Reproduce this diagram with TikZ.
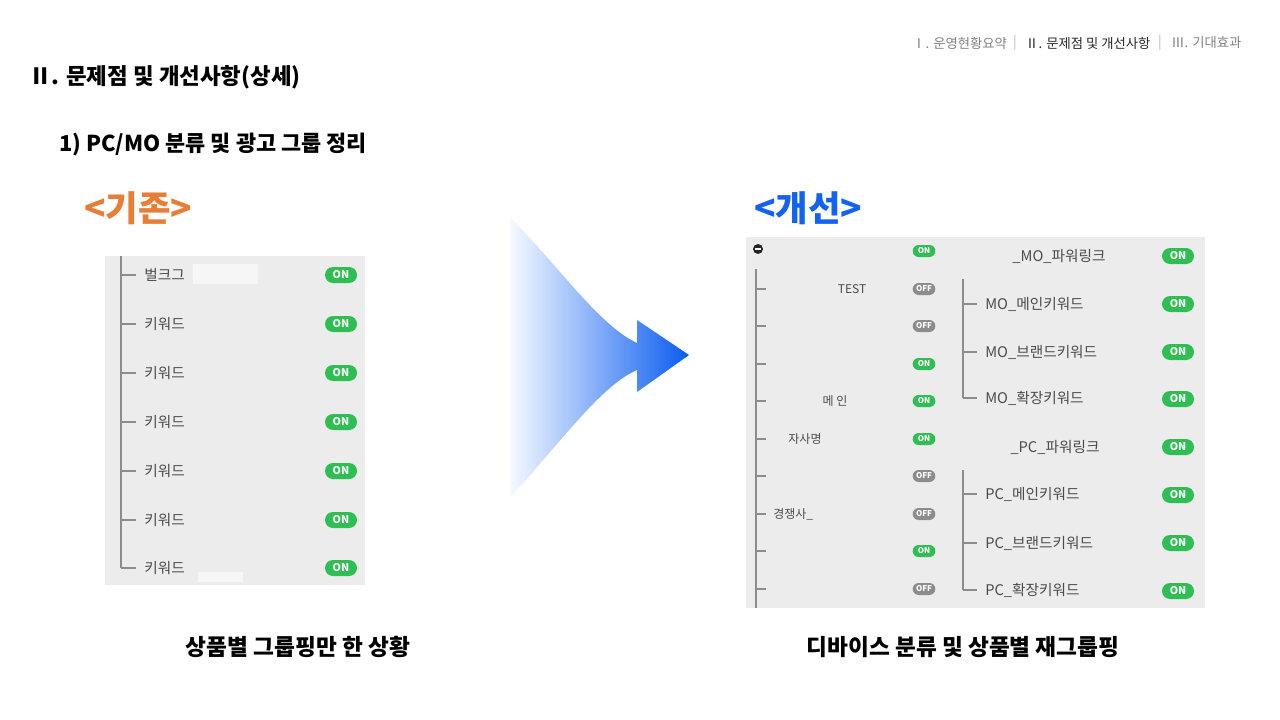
\documentclass[tikz,border=0pt]{standalone}
\usepackage{fontspec}
\setmainfont{Noto Sans CJK KR}
\definecolor{giorange}{RGB}{232,125,53}
\definecolor{gaeblue}{RGB}{20,98,240}
\definecolor{ongreen}{RGB}{46,190,82}
\definecolor{offgray}{RGB}{140,140,140}
\definecolor{panelgray}{RGB}{236,236,236}
\definecolor{treegray}{RGB}{140,140,140}
\definecolor{labelgray}{RGB}{75,75,75}
\definecolor{hdgray}{RGB}{130,130,130}
\definecolor{hddark}{RGB}{40,40,40}
\definecolor{sepgray}{RGB}{185,185,185}
\definecolor{arrowlight}{RGB}{246,250,255}
\definecolor{arrowmid}{RGB}{195,216,251}
\definecolor{arrowblue}{RGB}{10,92,240}
\begin{document}
\begin{tikzpicture}[x=0.75pt,y=0.75pt,yscale=-1,xscale=1,
  hdr/.style={inner sep=0pt,font=\fontsize{10}{12}\selectfont},
  onbig/.style={fill=ongreen,text=white,rounded corners=6pt,minimum width=24pt,minimum height=12pt,inner sep=0pt,font=\fontsize{8}{8}\selectfont\bfseries},
  onsmall/.style={fill=ongreen,text=white,rounded corners=4.5pt,minimum width=17pt,minimum height=9pt,inner sep=0pt,font=\fontsize{6}{6}\selectfont\bfseries},
  offsmall/.style={onsmall,fill=offgray},
  leaf/.style={anchor=west,inner xsep=6pt,inner ysep=0pt,text=labelgray,font=\fontsize{11}{13}\selectfont},
  midlabel/.style={inner sep=0pt,text=labelgray,font=\fontsize{9}{11}\selectfont},
  tree/.style={draw=treegray,line width=1.1pt}]
%uncomment if require: \path (0,720); %set diagram left start at 0, and has height of 720
\fill[white] (0,0) rectangle (1280,720);
\useasboundingbox (0,0) rectangle (1280,720);

% Text Node
\node (hdrA) [hdr,anchor=west,text=hdgray] at (912,43) {Ⅰ. 운영현황요약};
% Text Node
\node (sepA) [hdr,text=sepgray] at (1015,43) {|};
% Text Node
\node (hdrB) [hdr,anchor=west,text=hddark] at (1025,43) {Ⅱ. 문제점 및 개선사항};
% Text Node
\node (sepB) [hdr,text=sepgray] at (1160,43) {|};
% Text Node
\node (hdrC) [hdr,anchor=west,text=hdgray] at (1171,43) {Ⅲ. 기대효과};

% Text Node
\node (title) [anchor=west,inner sep=0pt,font=\fontsize{16.8}{18}\selectfont\bfseries] at (29,77) {Ⅱ. 문제점 및 개선사항(상세)};
% Text Node
\node (subtitle) [anchor=west,inner sep=0pt,font=\fontsize{16.4}{18}\selectfont\bfseries] at (59,145) {1) PC/MO 분류 및 광고 그룹 정리};
% Text Node
\node (before) [anchor=west,inner sep=0pt,text=giorange,font=\fontsize{26.5}{28}\selectfont\bfseries] at (84,208) {<기존>};
% Text Node
\node (after) [anchor=west,inner sep=0pt,text=gaeblue,font=\fontsize{26.5}{28}\selectfont\bfseries] at (754,208) {<개선>};

%Shape: Rectangle [id:before panel]
\fill[panelgray] (105,256) rectangle (365,585);
%Straight Lines [id:before trunk]
\coordinate (ltop) at (121,256);
\coordinate (lt1) at (121,275);
\coordinate (lt2) at (121,324);
\coordinate (lt3) at (121,373);
\coordinate (lt4) at (121,422);
\coordinate (lt5) at (121,471);
\coordinate (lt6) at (121,520);
\coordinate (lt7) at (121,568);
\draw[tree] (ltop) -- (lt7);

% Text Node
\node (l1) [leaf] at (136,275) {벌크그};
\node (l2) [leaf] at (136,324) {키워드};
\node (l3) [leaf] at (136,373) {키워드};
\node (l4) [leaf] at (136,422) {키워드};
\node (l5) [leaf] at (136,471) {키워드};
\node (l6) [leaf] at (136,520) {키워드};
\node (l7) [leaf] at (136,568) {키워드};
\draw[tree] (lt1) -- (l1.west);
\draw[tree] (lt2) -- (l2.west);
\draw[tree] (lt3) -- (l3.west);
\draw[tree] (lt4) -- (l4.west);
\draw[tree] (lt5) -- (l5.west);
\draw[tree] (lt6) -- (l6.west);
\draw[tree] (lt7) -- (l7.west);
%Shape: Rectangle [id:masks]
\fill[white,opacity=0.55] (193,264) rectangle (258,284);
\fill[white,opacity=0.55] (198,572) rectangle (243,582);

% Text Node
\node (lon1) [onbig] at (341,275) {ON};
\node (lon2) [onbig] at (341,324) {ON};
\node (lon3) [onbig] at (341,373) {ON};
\node (lon4) [onbig] at (341,422) {ON};
\node (lon5) [onbig] at (341,471) {ON};
\node (lon6) [onbig] at (341,520) {ON};
\node (lon7) [onbig] at (341,568) {ON};

%Shape: Arrow [id:gradient arrow]
\shade[left color=arrowlight,middle color=arrowmid,right color=arrowblue] (510,217) .. controls (560,268) and (600,326) .. (637,343) -- (637,320) -- (689,355) -- (637,392) -- (637,370) .. controls (600,386) and (560,444) .. (510,497) -- cycle;

%Shape: Rectangle [id:after panel]
\fill[panelgray] (746,237) rectangle (1205,608);
%Shape: Circle [id:collapse]
\node (minus) [circle,fill=black!85,minimum size=7.5pt,inner sep=0pt] at (758,249) {};
\draw[white,line width=1pt] ([xshift=-2pt]minus.center) -- ([xshift=2pt]minus.center);

%Straight Lines [id:after trunk]
\coordinate (rtop) at (756,269);
\coordinate (rbot) at (756,608);
\draw[tree] (rtop) -- (rbot);
\coordinate (rt1) at (756,289);  \coordinate (re1) at (766,289);
\coordinate (rt2) at (756,326);  \coordinate (re2) at (766,326);
\coordinate (rt3) at (756,364);  \coordinate (re3) at (766,364);
\coordinate (rt4) at (756,401);  \coordinate (re4) at (766,401);
\coordinate (rt5) at (756,439);  \coordinate (re5) at (766,439);
\coordinate (rt6) at (756,476);  \coordinate (re6) at (766,476);
\coordinate (rt7) at (756,514);  \coordinate (re7) at (766,514);
\coordinate (rt8) at (756,551);  \coordinate (re8) at (766,551);
\coordinate (rt9) at (756,589);  \coordinate (re9) at (766,589);
\draw[tree] (rt1) -- (re1);
\draw[tree] (rt2) -- (re2);
\draw[tree] (rt3) -- (re3);
\draw[tree] (rt4) -- (re4);
\draw[tree] (rt5) -- (re5);
\draw[tree] (rt6) -- (re6);
\draw[tree] (rt7) -- (re7);
\draw[tree] (rt8) -- (re8);
\draw[tree] (rt9) -- (re9);

% Text Node
\node (test) [midlabel] at (852,289) {TEST};
\node (main) [midlabel] at (835,401) {메 인};
\node (own) [midlabel] at (805,439) {자사명};
\node (rival) [midlabel,anchor=west] at (773,514) {경쟁사\_};

% Text Node
\node (s0) [onsmall] at (924,251) {ON};
\node (s1) [offsmall] at (924,289) {OFF};
\node (s2) [offsmall] at (924,326) {OFF};
\node (s3) [onsmall] at (924,364) {ON};
\node (s4) [onsmall] at (924,401) {ON};
\node (s5) [onsmall] at (924,439) {ON};
\node (s6) [offsmall] at (924,476) {OFF};
\node (s7) [offsmall] at (924,514) {OFF};
\node (s8) [onsmall] at (924,551) {ON};
\node (s9) [offsmall] at (924,589) {OFF};

%Straight Lines [id:MO bracket]
\coordinate (motop) at (963,279);
\coordinate (mo1) at (963,304);
\coordinate (mo2) at (963,352);
\coordinate (mo3) at (963,398);
\draw[tree] (motop) -- (mo3);
% Text Node
\node (mohead) [midlabel,font=\fontsize{11}{13}\selectfont] at (1059,256) {\_MO\_파워링크};
\node (mok1) [leaf] at (977,304) {MO\_메인키워드};
\node (mok2) [leaf] at (977,352) {MO\_브랜드키워드};
\node (mok3) [leaf] at (977,398) {MO\_확장키워드};
\draw[tree] (mo1) -- (mok1.west);
\draw[tree] (mo2) -- (mok2.west);
\draw[tree] (mo3) -- (mok3.west);

%Straight Lines [id:PC bracket]
\coordinate (pctop) at (963,470);
\coordinate (pc1) at (963,494);
\coordinate (pc2) at (963,543);
\coordinate (pc3) at (963,590);
\draw[tree] (pctop) -- (pc3);
% Text Node
\node (pchead) [midlabel,font=\fontsize{11}{13}\selectfont] at (1055,447) {\_PC\_파워링크};
\node (pck1) [leaf] at (977,494) {PC\_메인키워드};
\node (pck2) [leaf] at (977,543) {PC\_브랜드키워드};
\node (pck3) [leaf] at (977,590) {PC\_확장키워드};
\draw[tree] (pc1) -- (pck1.west);
\draw[tree] (pc2) -- (pck2.west);
\draw[tree] (pc3) -- (pck3.west);

% Text Node
\node (mon0) [onbig] at (1178,256) {ON};
\node (mon1) [onbig] at (1178,304) {ON};
\node (mon2) [onbig] at (1178,352) {ON};
\node (mon3) [onbig] at (1178,399) {ON};
\node (pon0) [onbig] at (1178,447) {ON};
\node (pon1) [onbig] at (1178,495) {ON};
\node (pon2) [onbig] at (1178,543) {ON};
\node (pon3) [onbig] at (1178,591) {ON};

% Text Node
\node (capL) [inner sep=0pt,font=\fontsize{17}{19}\selectfont\bfseries] at (298,647) {상품별 그룹핑만 한 상황};
% Text Node
\node (capR) [inner sep=0pt,font=\fontsize{17}{19}\selectfont\bfseries] at (963,647) {디바이스 분류 및 상품별 재그룹핑};

\end{tikzpicture}
\end{document}
